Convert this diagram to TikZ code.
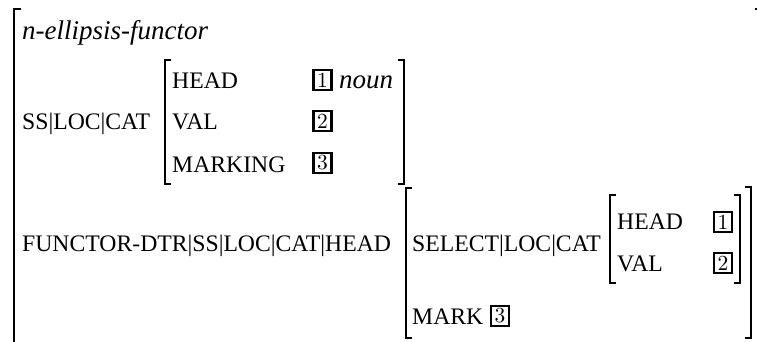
\documentclass[tikz,border=0pt]{standalone}
\usepackage{fontspec}
\setmainfont{Liberation Serif}
\newfontfamily\lmfont{lmroman10-regular}[Extension=.otf]
\begin{document}
\begin{tikzpicture}[x=1pt,y=-1pt,
  lbl/.style={anchor=base west, inner sep=0pt, font=\fontsize{23.7}{27}\selectfont},
  itl/.style={lbl, font=\fontsize{27}{30}\selectfont\itshape},
  tag/.style={draw, line width=2.1pt, inner sep=0pt, minimum width=18pt, minimum height=20pt, font=\lmfont\fontsize{21.5}{22}\selectfont},
  brk/.style={line width=1.2pt}]
\useasboundingbox (0,0) rectangle (757,342);
% outer brackets
\draw[brk] (21,9) -- (14,9) -- (14,350);
\draw[brk] (755,9) -- (762,9) -- (762,350);
% SS|LOC|CAT value brackets
\draw[brk] (171,60) -- (165,60) -- (165,184) -- (171,184);
\draw[brk] (398,60) -- (404,60) -- (404,184) -- (398,184);
% FUNCTOR value brackets
\draw[brk] (412,188) -- (406,188) -- (406,338) -- (412,338);
\draw[brk] (745,187) -- (751,187) -- (751,338) -- (745,338);
% SELECT value brackets
\draw[brk] (616,195) -- (610,195) -- (610,283) -- (616,283);
\draw[brk] (734,195) -- (740,195) -- (740,283) -- (734,283);
% texts
\node[itl] (type) at (22,40) {n-ellipsis-functor};
\node[lbl] (sspath) at (22,130) {SS|LOC|CAT};
\node[lbl] (head1) at (172,89) {HEAD};
\node[lbl] (val1) at (172,130) {VAL};
\node[lbl] (mark1) at (172,172) {MARKING};
\node[tag] (t1a) at (322.5,80) {1};
\node[tag] (t2a) at (322.5,121) {2};
\node[tag] (t3a) at (322.5,163) {3};
\node[itl] (noun) at (339,89) {noun};
\node[lbl] (fpath) at (22,251) {FUNCTOR-DTR|SS|LOC|CAT|HEAD};
\node[lbl] (spath) at (412,251) {SELECT|LOC|CAT};
\node[lbl] (head2) at (617,229) {HEAD};
\node[lbl] (val2) at (617,271) {VAL};
\node[tag] (t1b) at (723,222) {1};
\node[tag] (t2b) at (723,263) {2};
\node[lbl] (mark2) at (412,324) {MARK};
\node[tag] (t3b) at (500,316) {3};
\end{tikzpicture}
\end{document}
